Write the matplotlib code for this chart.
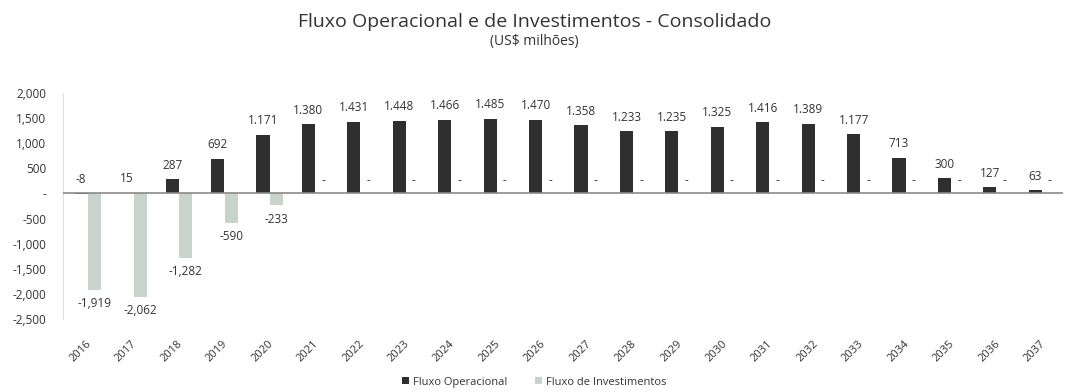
import matplotlib
matplotlib.use('Agg')
import matplotlib.pyplot as plt
import numpy as np

plt.rcParams['font.family'] = ['Open Sans', 'DejaVu Sans']

years = [str(y) for y in range(2016, 2038)]
fluxo_operacional = [-8, 15, 287, 692, 1171, 1380, 1431, 1448, 1466, 1485, 1470,
                     1358, 1233, 1235, 1325, 1416, 1389, 1177, 713, 300, 127, 63]
fluxo_investimentos = [-1919, -2062, -1282, -590, -233, 0, 0, 0, 0, 0, 0,
                       0, 0, 0, 0, 0, 0, 0, 0, 0, 0, 0]
yticks = [2000, 1500, 1000, 500, 0, -500, -1000, -1500, -2000, -2500]

DARK = '#2f2f2f'
LIGHT = '#c9d3ce'
TXT = '#333333'


def fmt(v):
    if v == 0:
        return '-'
    s = f'{v:,}'
    return s if v < 0 else s.replace(',', '.')


fig = plt.figure(figsize=(10.69, 3.92), dpi=100)
ax = fig.add_axes([0.059, 0.186, 0.935, 0.577])

x = np.arange(len(years))
w = 0.29
ax.bar(x - 0.1, fluxo_operacional, width=w, color=DARK, label='Fluxo Operacional', zorder=3)
ax.bar(x + 0.2, fluxo_investimentos, width=w, color=LIGHT, label='Fluxo de Investimentos', zorder=2)
ax.axhline(0, color='#8a8a8a', lw=1.2, zorder=4)

for xi, v in zip(x, fluxo_operacional):
    ax.annotate(fmt(v), (xi - 0.1, max(v, 0)), xytext=(0, 10), textcoords='offset points',
                ha='center', va='center', fontsize=8.5, color=TXT)
for xi, v in zip(x, fluxo_investimentos):
    if v < 0:
        ax.annotate(fmt(v), (xi + 0.2, v), xytext=(0, -10), textcoords='offset points',
                    ha='center', va='center', fontsize=8.5, color=TXT)
    else:
        ax.annotate(fmt(v), (xi + 0.22, v), xytext=(0, 9), textcoords='offset points',
                    ha='center', va='center', fontsize=8.5, color=TXT)

ax.set_xlim(-0.5, len(years) - 0.5)
ax.set_ylim(-2500, 2000)
ax.set_yticks(yticks)
ax.set_yticklabels(['-' if t == 0 else f'{t:,}' for t in yticks], fontsize=8.5, color=TXT)
ax.set_xticks(x)
ax.set_xticklabels(years, rotation=45, ha='right', rotation_mode='anchor', fontsize=8, color=TXT)
ax.tick_params(axis='both', length=0)
ax.tick_params(axis='y', pad=12)
ax.tick_params(axis='x', pad=14)
for side in ['top', 'right', 'bottom']:
    ax.spines[side].set_visible(False)
ax.spines['left'].set_color('#e2e2e2')

fig.text(0.5, 0.944, 'Fluxo Operacional e de Investimentos - Consolidado',
         ha='center', va='center', fontsize=14, color=TXT)
fig.text(0.5, 0.895, '(US$ milhões)', ha='center', va='center', fontsize=10, color=TXT)

fig.legend(loc='center', bbox_to_anchor=(0.5, 0.025), ncol=2, frameon=False,
           fontsize=8, handlelength=0.6, handleheight=0.6, columnspacing=2.5,
           handletextpad=0.4, labelcolor=TXT)

fig.savefig('out.png', dpi=100, facecolor='white')
